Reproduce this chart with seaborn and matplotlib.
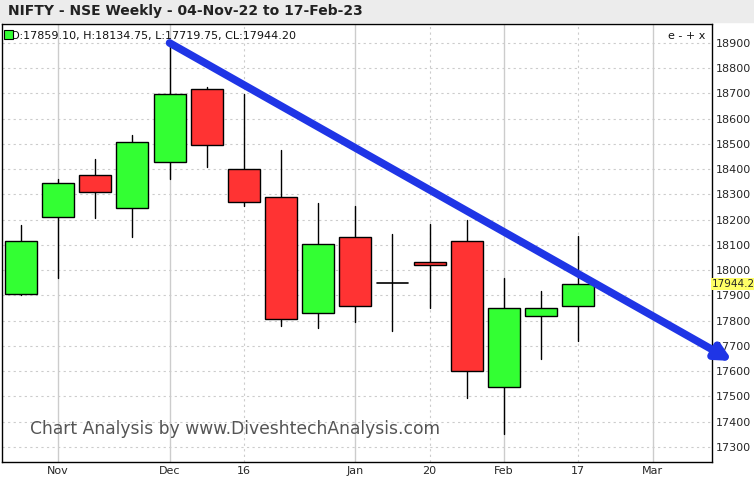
import matplotlib
matplotlib.use("Agg")
import matplotlib.pyplot as plt
import seaborn as sns
import numpy as np
from matplotlib.patches import Rectangle

sns.set_style("white")
plt.rcParams['font.family'] = ['DejaVu Sans']

opens  = [17905, 18210, 18375, 18245, 18429, 18716, 18402, 18288, 17830, 18131, 17950, 18033, 18116, 17539, 17818, 17859.10]
highs  = [18180, 18360, 18441, 18535, 18888, 18724, 18696, 18476, 18265, 18253, 18143, 18182, 18198, 17967, 17916, 18134.75]
lows   = [17900, 17967, 18206, 18131, 18360, 18410, 18253, 17778, 17770, 17794, 17759, 17849, 17492, 17351, 17649, 17719.75]
closes = [18117, 18347, 18308, 18508, 18696, 18496, 18269, 17806, 18104, 17857, 17956, 18022, 17602, 17849, 17849, 17944.20]
tick_pos = [1, 4, 6, 9, 11, 13, 15, 17]
tick_labels = ["Nov", "Dec", "16", "Jan", "20", "Feb", "17", "Mar"]
solid_ticks = [1, 4, 9, 13, 17]
arrow_start = (4, 18900)
arrow_end = (19.15, 17640)

fig = plt.figure(figsize=(7.54, 4.86), dpi=100)
fig.patch.set_facecolor("white")
fig.add_artist(Rectangle((0, 1 - 22/486), 1, 22/486, transform=fig.transFigure, color="#ececec", zorder=0))
fig.text(8/754, 1 - 11/486, "NIFTY - NSE Weekly - 04-Nov-22 to 17-Feb-23", fontsize=10, fontweight="bold",
         va="center", ha="left", color="#222222")

ax = fig.add_axes([2/754, 1 - 462/486, 710/754, 438/486])
ax.set_xlim(-0.51, 18.6)
ax.set_ylim(17240, 18975)

for v in range(17300, 19000, 100):
    ax.axhline(v, color="#cccccc", lw=0.8, ls=(0, (2, 3)), zorder=0)
for t in tick_pos:
    if t in solid_ticks:
        ax.axvline(t, color="#cccccc", lw=1, zorder=0)
    else:
        ax.axvline(t, color="#cccccc", lw=0.8, ls=(0, (2, 3)), zorder=0)

w = 0.86
for i, (o, h, l, c) in enumerate(zip(opens, highs, lows, closes)):
    col = "#33ff33" if c >= o else "#ff3333"
    ax.plot([i, i], [l, h], color="black", lw=1, zorder=2)
    lo, hi = min(o, c), max(o, c)
    if hi - lo < 8:
        ax.plot([i - w/2, i + w/2], [o, o], color="black", lw=1.2, zorder=3)
    else:
        ax.add_patch(Rectangle((i - w/2, lo), w, hi - lo, facecolor=col, edgecolor="black", lw=1, zorder=3))

ax.annotate("", xy=arrow_end, xytext=arrow_start, annotation_clip=False,
            arrowprops=dict(arrowstyle="-|>,head_length=0.9,head_width=0.45", color="#1f35e6", lw=5.5, shrinkA=0, shrinkB=0),
            zorder=5)

ax.set_xticks(tick_pos)
ax.set_xticklabels(tick_labels, fontsize=8)
ax.yaxis.tick_right()
ax.set_yticks(range(17300, 19000, 100))
ax.set_yticklabels([str(v) for v in range(17300, 19000, 100)], fontsize=8)
ax.tick_params(axis="both", length=0, pad=3)
for s in ax.spines.values():
    s.set_color("black"); s.set_linewidth(1)

ax.text(1.0, 17944.2, "17944.2", transform=ax.get_yaxis_transform(), fontsize=7.5, va="center", ha="left",
        bbox=dict(boxstyle="square,pad=0.1", fc="#ffff66", ec="none"), zorder=6, clip_on=False)
ax.text(0.012, 0.985, "O:17859.10, H:18134.75, L:17719.75, CL:17944.20", transform=ax.transAxes,
        fontsize=8, va="top", ha="left", color="#111111")
ax.add_patch(Rectangle((0.003, 0.965), 0.012, 0.022, transform=ax.transAxes, facecolor="#33ff33",
                       edgecolor="black", lw=0.8, zorder=6))
ax.text(0.99, 0.985, "e - + x", transform=ax.transAxes, fontsize=8, va="top", ha="right", color="#111111")
ax.text(0.04, 0.075, "Chart Analysis by www.DiveshtechAnalysis.com", transform=ax.transAxes,
        fontsize=12.3, color="#555555", va="center", ha="left")

fig.savefig("out.png", dpi=100)
